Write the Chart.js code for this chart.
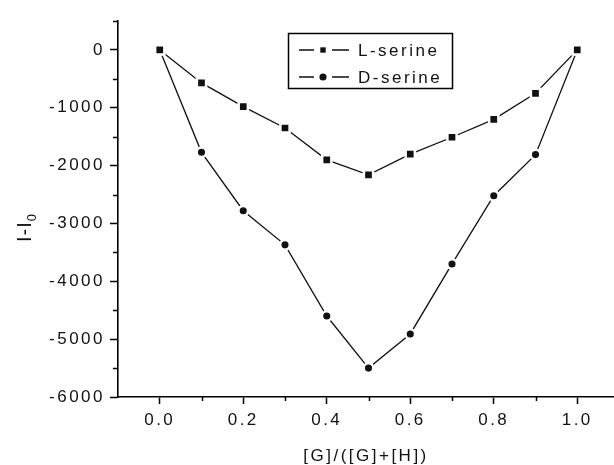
<!DOCTYPE html>
<html>
<head>
<meta charset="utf-8">
<script src="https://cdn.jsdelivr.net/npm/chart.js@4.4.0/dist/chart.umd.min.js"></script>
<style>
    html, body { margin: 0; padding: 0; background: #fff; }
    #wrap { width: 614px; height: 465px; }
</style>
</head>
<body>
<div id="wrap"><canvas id="chartSerine" width="614" height="465"></canvas></div>
<script>
// Values
const fractions = [0.0, 0.1, 0.2, 0.3, 0.4, 0.5, 0.6, 0.7, 0.8, 0.9, 1.0];
const lSerine = [0, -570, -980, -1350, -1900, -2160, -1800, -1510, -1200, -750, 0];
const dSerine = [0, -1770, -2780, -3370, -4600, -5500, -4910, -3700, -2520, -1810, 0];
const seriesLabels = ['L-serine', 'D-serine'];

const xMajorTicks = [0.0, 0.2, 0.4, 0.6, 0.8, 1.0];
const xMinorTicks = [0.1, 0.3, 0.5, 0.7, 0.9];
const yMajorTicks = [0, -1000, -2000, -3000, -4000, -5000, -6000];
const yMinorTicks = [500, -500, -1500, -2500, -3500, -4500, -5500];

const FONT = '"Liberation Sans", Arial, sans-serif';
const INK = '#111';

function toPoints(values) {
    return fractions.map((x, i) => ({ x: x, y: values[i] }));
}

// Origin-like extras: letter spacing, minor ticks, boxed legend, y title with subscript
const originStyle = {
    id: 'originStyle',
    beforeLayout(chart) {
        chart.ctx.letterSpacing = '2.5px';
    },
    beforeDraw(chart) {
        const ctx = chart.ctx;
        ctx.letterSpacing = '2.5px';
        ctx.save();
        ctx.fillStyle = '#fff';
        ctx.fillRect(0, 0, chart.width, chart.height);
        ctx.restore();
    },
    afterDraw(chart) {
        const ctx = chart.ctx;
        const xs = chart.scales.x;
        const ys = chart.scales.y;
        const area = chart.chartArea;

        ctx.save();
        ctx.strokeStyle = '#000';
        ctx.lineWidth = 1.5;

        // minor ticks
        ctx.beginPath();
        xMinorTicks.forEach(v => {
            const px = Math.round(xs.getPixelForValue(v)) + 0.5;
            ctx.moveTo(px, area.bottom);
            ctx.lineTo(px, area.bottom + 4);
        });
        yMinorTicks.forEach(v => {
            const py = Math.round(ys.getPixelForValue(v)) + 0.5;
            ctx.moveTo(area.left, py);
            ctx.lineTo(area.left - 5, py);
        });
        ctx.stroke();

        // legend box
        ctx.lineWidth = 1.5;
        ctx.strokeRect(288.5, 33.5, 164, 55);
        chart.data.datasets.forEach((ds, i) => {
            const y = 50 + i * 27;
            ctx.strokeStyle = INK;
            ctx.lineWidth = 1.3;
            ctx.beginPath();
            ctx.moveTo(299, y);
            ctx.lineTo(314, y);
            ctx.moveTo(332, y);
            ctx.lineTo(349, y);
            ctx.stroke();
            ctx.fillStyle = INK;
            Chart.helpers.drawPoint(ctx, {
                pointStyle: ds.pointStyle,
                radius: ds.pointStyle === 'rect' ? 3.8 : 3.6,
                rotation: 0,
                borderWidth: 0
            }, 323, y);
            ctx.font = '17px ' + FONT;
            ctx.textBaseline = 'middle';
            ctx.textAlign = 'left';
            ctx.fillText(ds.label, 358, y + 1);
        });

        // y axis title: I-I0
        ctx.translate(31, 242);
        ctx.rotate(-Math.PI / 2);
        ctx.fillStyle = INK;
        ctx.textBaseline = 'alphabetic';
        ctx.textAlign = 'left';
        ctx.letterSpacing = '1px';
        ctx.font = '20px ' + FONT;
        ctx.fillText('I-I', 0, 0);
        const w = ctx.measureText('I-I').width;
        ctx.font = '13px ' + FONT;
        ctx.fillText('0', w, 5);
        ctx.restore();
    }
};

Chart.defaults.font.family = FONT;
Chart.defaults.font.size = 17;
Chart.defaults.color = INK;

const ctxSerine = document.getElementById('chartSerine').getContext('2d');
new Chart(ctxSerine, {
    type: 'line',
    data: {
        datasets: [{
            label: seriesLabels[0],
            data: toPoints(lSerine),
            borderColor: INK,
            borderWidth: 1.3,
            pointStyle: 'rect',
            pointRadius: 6.5,
            pointBackgroundColor: INK,
            pointBorderColor: '#fff',
            pointBorderWidth: 2.5,
            tension: 0
        }, {
            label: seriesLabels[1],
            data: toPoints(dSerine),
            borderColor: INK,
            borderWidth: 1.3,
            pointStyle: 'circle',
            pointRadius: 4.8,
            pointBackgroundColor: INK,
            pointBorderColor: '#fff',
            pointBorderWidth: 2.5,
            tension: 0
        }]
    },
    options: {
        responsive: false,
        animation: false,
        layout: {
            autoPadding: false,
            padding: { top: 21, right: 0, bottom: 0, left: 0 }
        },
        plugins: {
            legend: { display: false },
            tooltip: { enabled: false }
        },
        scales: {
            x: {
                type: 'linear',
                min: -0.1,
                max: 1.088,
                afterFit: function(scale) {
                    scale.height = 68;
                    scale.paddingLeft = 0;
                    scale.paddingRight = 0;
                },
                afterBuildTicks: function(scale) {
                    scale.ticks = xMajorTicks.map(v => ({ value: v }));
                },
                ticks: {
                    autoSkip: false,
                    maxRotation: 0,
                    padding: 6,
                    color: INK,
                    callback: function(value) { return value.toFixed(1); }
                },
                grid: {
                    drawOnChartArea: false,
                    drawTicks: true,
                    tickLength: 7,
                    tickColor: '#000',
                    tickWidth: 1.5
                },
                border: { display: true, color: '#000', width: 1.6 },
                title: {
                    display: true,
                    text: '[G]/([G]+[H])',
                    color: INK,
                    font: { size: 17 },
                    padding: { top: 0, bottom: -2 }
                }
            },
            y: {
                type: 'linear',
                min: -6000,
                max: 500,
                afterFit: function(scale) {
                    scale.width = 118;
                    scale.paddingTop = 0;
                    scale.paddingBottom = 0;
                },
                afterBuildTicks: function(scale) {
                    scale.ticks = yMajorTicks.map(v => ({ value: v }));
                },
                ticks: {
                    autoSkip: false,
                    padding: 5,
                    color: INK,
                    callback: function(value) { return String(value); }
                },
                grid: {
                    drawOnChartArea: false,
                    drawTicks: true,
                    tickLength: 8,
                    tickColor: '#000',
                    tickWidth: 1.5
                },
                border: { display: true, color: '#000', width: 1.6 }
            }
        }
    },
    plugins: [originStyle]
});
</script>
</body>
</html>
